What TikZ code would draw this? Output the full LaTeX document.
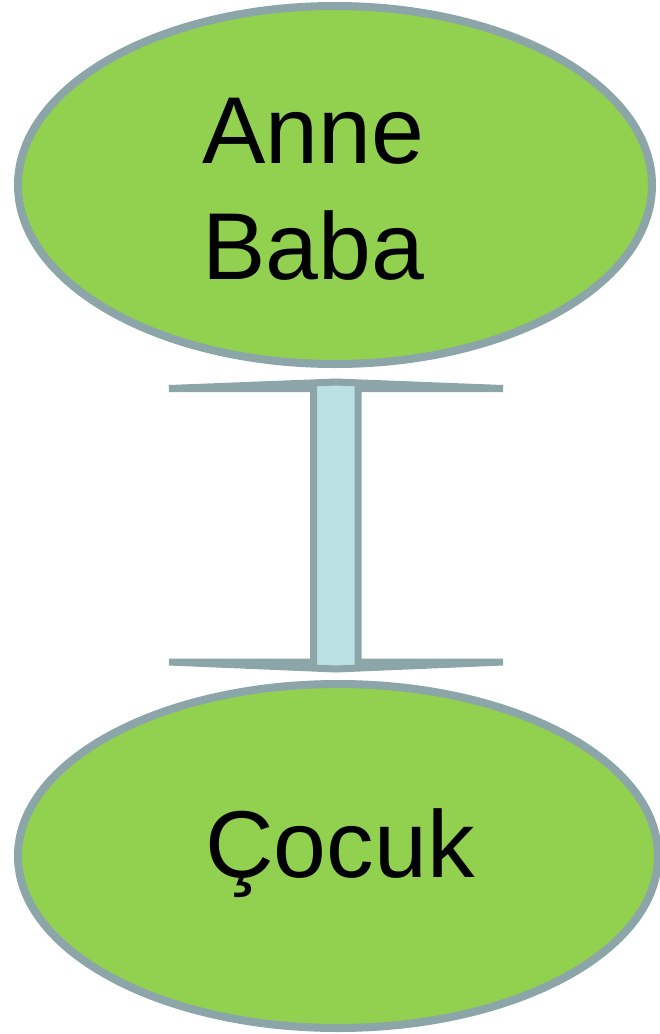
\documentclass[tikz,border=0pt]{standalone}
\usepackage{fontspec}
\setmainfont{Liberation Sans}
\usetikzlibrary{shapes.geometric}
\definecolor{blobgreen}{HTML}{92D050}
\definecolor{edgegray}{HTML}{8BA5A8}
\definecolor{shaftblue}{HTML}{BBE0E3}
\tikzset{
  blob/.style={ellipse, draw=edgegray, fill=blobgreen, line width=8pt, inner sep=0pt},
  lbl/.style={font=\fontsize{95}{116}\selectfont, text=black, inner sep=0pt, anchor=base},
  dblarrow/.style={draw=edgegray, fill=shaftblue, line width=7pt, line join=miter, miter limit=30}
}
\begin{document}
\begin{tikzpicture}[x=1pt,y=-1pt]
\useasboundingbox (0,0) rectangle (660,1034);
\node[blob, minimum width=634pt, minimum height=358pt] (parents) at (335,185) {};
\node[blob, minimum width=640pt, minimum height=344pt] (child) at (338,856) {};
\node[lbl] (t1) at (313,163) {Anne};
\node[lbl] (t2) at (313,279) {Baba};
\node[lbl] (t3) at (340,877) {Çocuk};
\coordinate (top) at (336,382);
\coordinate (bot) at (336,669);
\draw[dblarrow] (top) -- (503,388.5) -- (358,388.5) -- (358,662) -- (503,662) -- (bot)
  -- (169,662) -- (313.5,662) -- (313.5,388.5) -- (169,388.5) -- cycle;
\end{tikzpicture}
\end{document}
